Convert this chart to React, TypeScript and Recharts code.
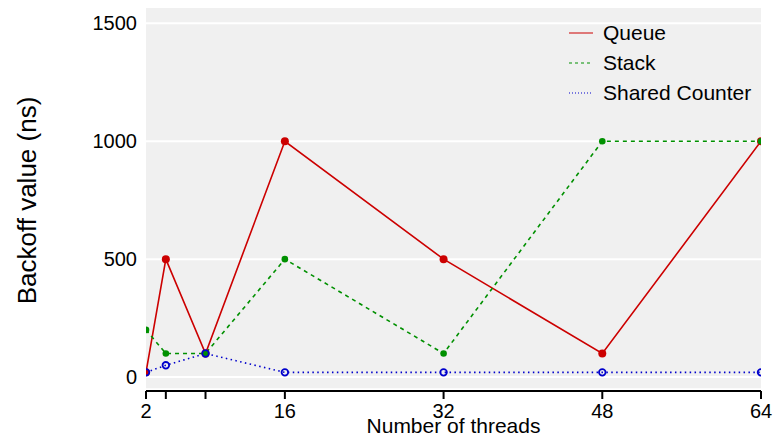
import {
  LineChart,
  Line,
  XAxis,
  YAxis,
  Legend,
  ReferenceArea,
  ReferenceLine
} from "recharts";

// values
const threads = [2, 4, 8, 16, 32, 48, 64];
const queue = [20, 500, 100, 1000, 500, 100, 1000];
const stack = [200, 100, 100, 500, 100, 1000, 1000];
const sharedCounter = [20, 50, 100, 20, 20, 20, 20];

const xTicks = [2, 4, 8, 16, 32, 48, 64];
const xLabelled = [2, 16, 32, 48, 64];
const yTicks = [0, 500, 1000, 1500];

const FONT = "'Liberation Sans', Arial, Helvetica, sans-serif";

const series = [
  { key: "queue", name: "Queue", color: "#cc0000", dash: undefined, legendDash: undefined },
  { key: "stack", name: "Stack", color: "#009000", dash: "4 4", legendDash: "3 3" },
  { key: "shared", name: "Shared Counter", color: "#0000cc", dash: "1.5 3.4", legendDash: "1 2" }
];

const data = threads.map((t, i) => ({
  threads: t,
  queue: queue[i],
  stack: stack[i],
  shared: sharedCounter[i]
}));

function LegendBox() {
  return (
    <div style={{ fontFamily: FONT, fontSize: 21, color: "#000", lineHeight: "30px" }}>
      {series.map((s) => (
        <div key={s.key} style={{ display: "flex", alignItems: "center", height: 30 }}>
          <svg width={37} height={30} style={{ display: "block" }}>
            <line
              x1={3}
              x2={27}
              y1={15}
              y2={15}
              stroke={s.color}
              strokeWidth={1}
              strokeDasharray={s.legendDash}
            />
          </svg>
          <span>{s.name}</span>
        </div>
      ))}
    </div>
  );
}

export default function App() {
  return (
    <div style={{ position: "absolute", left: 0, top: 0, background: "#fff" }}>
      <LineChart
        width={773}
        height={438}
        data={data}
        margin={{ top: 8, right: 12, bottom: 0, left: 0 }}
      >
        <XAxis
          dataKey="threads"
          type="number"
          domain={[2, 64]}
          ticks={xTicks}
          allowDataOverflow
          height={47}
          stroke="#000"
          axisLine={{ stroke: "#000", strokeWidth: 2 }}
          tickLine={{ stroke: "#000", strokeWidth: 2 }}
          tickSize={8}
          tickMargin={5}
          tick={{ fill: "#000", fontSize: 20, fontFamily: FONT }}
          tickFormatter={(v) => (xLabelled.includes(v) ? String(v) : "")}
          label={{
            value: "Number of threads",
            position: "insideBottom",
            offset: 5,
            fill: "#000",
            fontSize: 21,
            fontFamily: FONT
          }}
        />
        <YAxis
          type="number"
          domain={[-59, 1565]}
          ticks={yTicks}
          allowDataOverflow
          width={146}
          axisLine={false}
          tickLine={false}
          tickMargin={3}
          tick={{ fill: "#000", fontSize: 20, fontFamily: FONT }}
          label={(p: any) => {
            const vb = p.viewBox || { x: 0, y: 8, width: 146, height: 383 };
            const cx = vb.x + 36;
            const cy = vb.y + vb.height / 2 + 1;
            return (
              <text
                x={cx}
                y={cy}
                transform={`rotate(-90 ${cx} ${cy})`}
                textAnchor="middle"
                fill="#000"
                fontSize={26}
                fontFamily={FONT}
              >
                Backoff value (ns)
              </text>
            );
          }}
        />
        <ReferenceArea
          x1={2}
          x2={64}
          y1={-47}
          y2={1565}
          fill="#f0f0f0"
          fillOpacity={1}
          stroke="none"
          ifOverflow="visible"
        />
        {yTicks.map((t) => (
          <ReferenceLine key={t} y={t} stroke="#ffffff" strokeWidth={2} />
        ))}
        <Legend
          layout="horizontal"
          verticalAlign="middle"
          align="center"
          content={() => <LegendBox />}
          wrapperStyle={{ position: "absolute", left: 566, top: 18, width: 200, height: 90 }}
        />
        {series.map((s) => (
          <Line
            key={s.key}
            dataKey={s.key}
            name={s.name}
            type="linear"
            stroke={s.color}
            strokeWidth={1.6}
            strokeDasharray={s.dash}
            isAnimationActive={false}
            dot={
              s.key === "shared"
                ? { r: 3.3, fill: "none", stroke: s.color, strokeWidth: 1.8, strokeDasharray: "" }
                : { r: s.key === "queue" ? 4 : 3.3, fill: s.color, stroke: "none" }
            }
            activeDot={false}
          />
        ))}
      </LineChart>
    </div>
  );
}
